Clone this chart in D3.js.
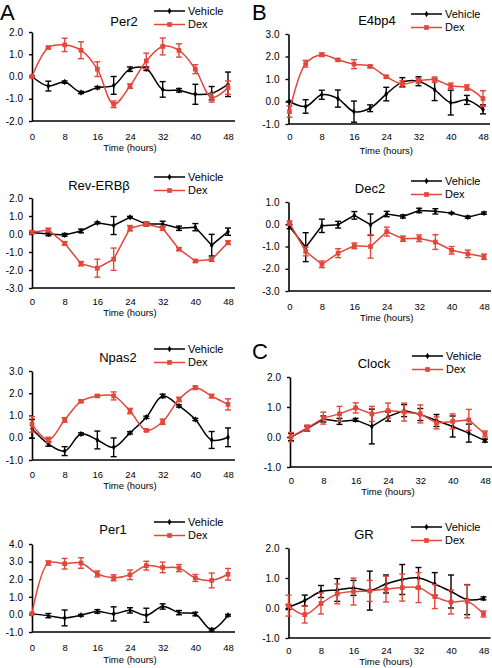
<!DOCTYPE html>
<html><head><meta charset="utf-8">
<script src="https://cdn.jsdelivr.net/npm/d3@7"></script>
<style>body{margin:0;background:#fff} text{font-family:"Liberation Sans",Arial,sans-serif;fill:#000}</style>
</head><body><svg id="c" width="492" height="668"></svg>
<script>
// ---------- DATA ----------
const times = [0,4,8,12,16,20,24,28,32,36,40,44,48];
const xTickLabels = [0,8,16,24,32,40,48];
const seriesNames = ["Vehicle","Dex"];
const xAxisTitle = "Time (hours)";

const per2Veh    = [0.00,-0.43,-0.25,-0.72,-0.50,-0.40,0.33,0.35,-0.58,-0.62,-0.80,-0.75,-0.35];
const per2VehErr = [0.02,0.22,0.05,0.05,0.05,0.40,0.10,0.08,0.35,0.08,0.45,0.30,0.55];
const per2Dex    = [0.00,1.30,1.42,1.18,0.33,-1.25,-0.43,0.70,1.35,1.17,0.33,-0.95,-0.50];
const per2DexErr = [0.02,0.05,0.30,0.38,0.33,0.15,0.10,0.35,0.38,0.30,0.20,0.20,0.30];

const e4Veh    = [0.00,-0.22,0.30,0.13,-0.45,-0.30,0.33,0.86,0.90,0.52,-0.05,0.07,-0.35];
const e4VehErr = [0.02,0.30,0.20,0.38,0.47,0.15,0.30,0.20,0.20,0.48,0.55,0.20,0.20];
const e4Dex    = [-0.45,1.68,2.08,1.85,1.66,1.56,1.10,0.78,0.92,0.97,0.70,0.62,0.13];
const e4DexErr = [0.25,0.15,0.08,0.05,0.20,0.05,0.05,0.15,0.10,0.12,0.12,0.12,0.35];

const revVeh    = [0.08,0.00,-0.05,0.17,0.62,0.47,0.93,0.55,0.56,0.32,0.38,-0.62,0.13];
const revVehErr = [0.02,0.10,0.08,0.10,0.05,0.50,0.05,0.10,0.15,0.12,0.20,0.60,0.20];
const revDex    = [0.10,0.22,-0.52,-1.65,-1.90,-1.40,0.32,0.56,0.32,-0.84,-1.50,-1.42,-0.48];
const revDexErr = [0.08,0.10,0.10,0.12,0.50,0.62,0.15,0.12,0.12,0.08,0.08,0.10,0.10];

const dec2Veh    = [-0.10,-1.03,-0.07,-0.02,0.40,-0.02,0.46,0.35,0.62,0.58,0.50,0.32,0.50];
const dec2VehErr = [0.10,0.65,0.30,0.15,0.17,0.48,0.12,0.07,0.10,0.12,0.03,0.05,0.05];
const dec2Dex    = [0.05,-1.22,-1.80,-1.30,-0.97,-1.00,-0.33,-0.65,-0.63,-0.80,-1.17,-1.33,-1.46];
const dec2DexErr = [0.10,0.20,0.15,0.20,0.13,0.52,0.20,0.12,0.15,0.33,0.17,0.17,0.12];

const npasVeh    = [0.40,-0.28,-0.60,0.17,-0.10,-0.43,0.22,0.92,1.88,1.43,0.82,-0.10,0.02];
const npasVehErr = [0.42,0.10,0.20,0.05,0.40,0.42,0.05,0.05,0.08,0.05,0.05,0.38,0.42];
const npasDex    = [0.60,-0.10,0.80,1.64,1.88,1.88,1.20,0.33,0.72,1.72,2.25,1.87,1.50];
const npasDexErr = [0.35,0.12,0.10,0.05,0.05,0.18,0.12,0.05,0.12,0.10,0.08,0.08,0.25];

const clockVeh    = [0.00,0.28,0.60,0.52,0.57,0.35,0.68,0.88,0.75,0.55,0.35,0.13,-0.12];
const clockVehErr = [0.12,0.08,0.10,0.10,0.05,0.58,0.15,0.20,0.20,0.20,0.35,0.30,0.05];
const clockDex    = [0.00,0.30,0.63,0.77,0.97,0.77,0.88,0.83,0.77,0.47,0.52,0.57,0.10];
const clockDexErr = [0.15,0.10,0.20,0.25,0.17,0.25,0.25,0.30,0.30,0.20,0.25,0.35,0.10];

const per1Veh    = [0.03,-0.07,-0.20,-0.05,0.17,0.03,0.23,-0.05,0.45,0.10,0.02,-0.87,-0.05];
const per1VehErr = [0.02,0.12,0.45,0.05,0.10,0.40,0.15,0.40,0.15,0.12,0.10,0.07,0.05];
const per1Dex    = [0.04,2.92,2.88,2.92,2.30,2.08,2.25,2.77,2.67,2.63,2.07,1.93,2.28];
const per1DexErr = [0.02,0.12,0.30,0.30,0.17,0.17,0.27,0.25,0.30,0.20,0.20,0.42,0.33];

const grVeh    = [0.03,0.25,0.55,0.60,0.67,0.58,0.80,0.95,1.00,0.80,0.55,0.28,0.32];
const grVehErr = [0.08,0.18,0.20,0.38,0.25,0.65,0.30,0.50,0.35,0.38,0.55,0.50,0.05];
const grDex    = [0.08,-0.22,0.15,0.47,0.55,0.57,0.63,0.68,0.68,0.38,0.20,0.22,-0.20];
const grDexErr = [0.35,0.28,0.35,0.33,0.45,0.35,0.43,0.45,0.50,0.40,0.40,0.55,0.10];

// ---------- LAYOUT ----------
const RED = "#e2473b";
const panels = [
  {title:"Per2", veh:per2Veh, vehE:per2VehErr, dex:per2Dex, dexE:per2DexErr, dom:[-2,2], ax:32, x0:32, x1:228, top:32, bottom:121, tx:124, ty:26, leg:11, tickY:137, timeY:148, smooth:true, legX:154},
  {title:"E4bp4", veh:e4Veh, vehE:e4VehErr, dex:e4Dex, dexE:e4DexErr, dom:[-1,3], ax:288.5, x0:289.5, x1:483, top:34, bottom:124, tx:377, ty:25, leg:14, tickY:137, timeY:151, smooth:true, legX:411},
  {title:"Rev-ERBβ", veh:revVeh, vehE:revVehErr, dex:revDex, dexE:revDexErr, dom:[-3,2], ax:32, x0:32, x1:228, top:198, bottom:288, tx:99, ty:190, leg:177, tickY:302, timeY:313, smooth:false, legX:154},
  {title:"Dec2", veh:dec2Veh, vehE:dec2VehErr, dex:dec2Dex, dexE:dec2DexErr, dom:[-3,1], ax:288.5, x0:289.5, x1:484, top:202, bottom:291, tx:370, ty:193, leg:181, tickY:307, timeY:318, smooth:false, legX:411},
  {title:"Npas2", veh:npasVeh, vehE:npasVehErr, dex:npasDex, dexE:npasDexErr, dom:[-1,3], ax:32, x0:32, x1:228, top:371, bottom:460, tx:118, ty:362, leg:349, tickY:475, timeY:486, smooth:true, legX:154},
  {title:"Clock", veh:clockVeh, vehE:clockVehErr, dex:clockDex, dexE:clockDexErr, dom:[-1,2], ax:290, x0:291, x1:485, top:377, bottom:467, tx:374, ty:368, leg:356, tickY:481, timeY:492, smooth:false, legX:412},
  {title:"Per1", veh:per1Veh, vehE:per1VehErr, dex:per1Dex, dexE:per1DexErr, dom:[-1,4], ax:32, x0:32, x1:228, top:544, bottom:632, tx:113, ty:534, leg:522, tickY:648, timeY:660, smooth:true, legX:154},
  {title:"GR", veh:grVeh, vehE:grVehErr, dex:grDex, dexE:grDexErr, dom:[-1,2], ax:288.5, x0:288.5, x1:483.5, top:548, bottom:638, tx:364, ty:539, leg:527, tickY:651, timeY:662, smooth:true, legX:411}
];
const letters = [{t:"A",x:0,y:20},{t:"B",x:252,y:20},{t:"C",x:252,y:359}];

const svg = d3.select("#c");

letters.forEach(l => svg.append("text").attr("x",l.x).attr("y",l.y).attr("font-size",22).text(l.t));

function drawPanel(p){
  const g = svg.append("g");
  const x = d3.scaleLinear().domain([0,48]).range([p.x0,p.x1]);
  const y = d3.scaleLinear().domain(p.dom).range([p.bottom,p.top]);
  const yTicks = d3.range(p.dom[0], p.dom[1]+0.001, 1);

  // y axis
  const ya = g.append("g").attr("transform",`translate(${p.ax},0)`)
    .call(d3.axisLeft(y).tickValues(yTicks).tickSize(3).tickSizeOuter(0).tickPadding(6).tickFormat(d=>d.toFixed(1)));
  ya.select(".domain").attr("stroke","#000").attr("stroke-width",1.6);
  ya.selectAll(".tick line").attr("stroke","#000").attr("stroke-width",1.4);
  ya.selectAll("text").attr("font-size",10).attr("font-family","Liberation Sans, Arial, sans-serif");

  // x axis line
  g.append("line").attr("x1",p.ax).attr("x2",p.x1+7).attr("y1",p.bottom).attr("y2",p.bottom)
    .attr("stroke","#000").attr("stroke-width",1.6);
  const xa = g.append("g").attr("transform",`translate(0,${p.tickY})`)
    .call(d3.axisBottom(x).tickValues(xTickLabels).tickSize(0).tickPadding(0).tickFormat(d=>String(d)));
  xa.select(".domain").remove();
  xa.selectAll("text").attr("y",0).attr("dy","0.35em").attr("font-size",9.5).attr("font-family","Liberation Sans, Arial, sans-serif");
  g.append("text").attr("x",(p.x0+p.x1)/2).attr("y",p.timeY).attr("dy","0.35em").attr("text-anchor","middle")
    .attr("font-size",9.5).text(xAxisTitle);

  // title
  g.append("text").attr("x",p.tx).attr("y",p.ty).attr("text-anchor","middle").attr("font-size",13).text(p.title);

  const line = d3.line().x((d,i)=>x(times[i])).y(d=>y(d))
    .curve(p.smooth ? d3.curveCatmullRom.alpha(0.5) : d3.curveLinear);

  const series = [
    {vals:p.veh, errs:p.vehE, color:"#000", sym:d3.symbolDiamond, size:12},
    {vals:p.dex, errs:p.dexE, color:RED, sym:d3.symbolSquare, size:22}
  ];
  series.forEach(s => {
    const sg = g.append("g");
    sg.append("path").attr("d",line(s.vals)).attr("fill","none").attr("stroke",s.color).attr("stroke-width",1.5);
    s.vals.forEach((v,i) => {
      const cx = x(times[i]), e = s.errs[i];
      const y1 = y(v-e), y2 = y(v+e);
      sg.append("line").attr("x1",cx).attr("x2",cx).attr("y1",y1).attr("y2",y2).attr("stroke",s.color).attr("stroke-width",1.4);
      [y1,y2].forEach(yy => sg.append("line").attr("x1",cx-3).attr("x2",cx+3).attr("y1",yy).attr("y2",yy).attr("stroke",s.color).attr("stroke-width",1.4));
      sg.append("path").attr("d",d3.symbol().type(s.sym).size(s.size)()).attr("transform",`translate(${cx},${y(v)})`).attr("fill",s.color);
    });
  });

  // legend
  series.forEach((s,k) => {
    const ly = p.leg + k*13.5;
    g.append("line").attr("x1",p.legX).attr("x2",p.legX+31).attr("y1",ly).attr("y2",ly).attr("stroke",s.color).attr("stroke-width",1.5);
    g.append("path").attr("d",d3.symbol().type(s.sym).size(s.size)()).attr("transform",`translate(${p.legX+15.5},${ly})`).attr("fill",s.color);
    g.append("text").attr("x",p.legX+34).attr("y",ly).attr("dy","0.36em").attr("font-size",11).text(seriesNames[k]);
  });
}
panels.forEach(drawPanel);
</script></body></html>
